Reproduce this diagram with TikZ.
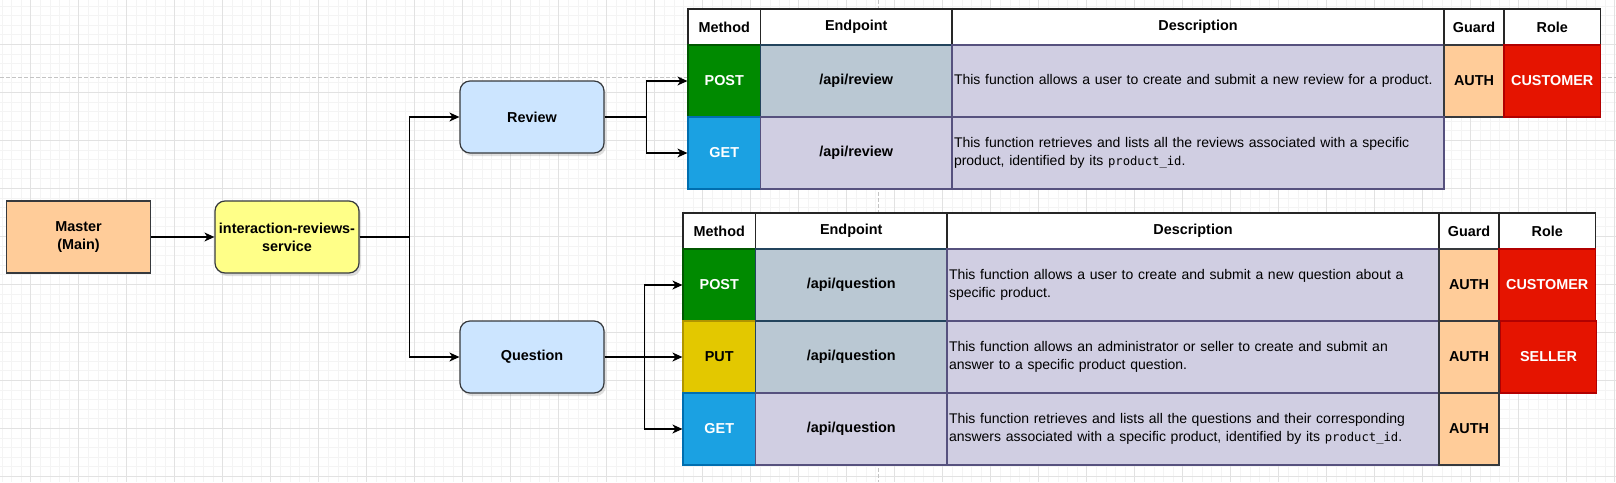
\documentclass[tikz,border=0pt]{standalone}
\usepackage{fontspec}
\setmainfont{Liberation Sans}
\newfontfamily\codefont{DejaVu Sans Mono}
\usetikzlibrary{arrows.meta,shadows}

\definecolor{gridmajor}{HTML}{E2E2E2}
\definecolor{gridminor}{HTML}{F4F4F4}
\definecolor{pageline}{HTML}{C4C4C4}
\definecolor{boxline}{HTML}{36393D}
\definecolor{masterfill}{HTML}{FFCC99}
\definecolor{servicefill}{HTML}{FFFF88}
\definecolor{groupfill}{HTML}{CCE5FF}
\definecolor{postfill}{HTML}{008A00}
\definecolor{postline}{HTML}{005700}
\definecolor{getfill}{HTML}{1BA1E2}
\definecolor{getline}{HTML}{006EAF}
\definecolor{putfill}{HTML}{E3C800}
\definecolor{putline}{HTML}{B09500}
\definecolor{epfill}{HTML}{BAC8D3}
\definecolor{epline}{HTML}{23445D}
\definecolor{descfill}{HTML}{D0CEE2}
\definecolor{descline}{HTML}{56517E}
\definecolor{rolefill}{HTML}{E51400}
\definecolor{roleline}{HTML}{B20000}

\newcommand{\apicode}[1]{{\codefont\fontsize{12.2}{18}\selectfont #1}}

\tikzset{
  flowbox/.style={draw=boxline, line width=1.2pt, minimum width=144pt, minimum height=72pt,
    inner sep=2pt, align=center, font=\fontsize{14.4}{17.7}\selectfont\bfseries},
  roundbox/.style={flowbox, rounded corners=10pt,
    drop shadow={shadow xshift=2pt, shadow yshift=-3pt, opacity=0.25}},
  conn/.style={line width=1.3pt, -{Stealth[length=10pt, width=9pt, inset=3pt]}},
  tcell/.style={draw, line width=1.2pt, inner sep=0pt, align=center, minimum height=72pt,
    font=\fontsize{14.4}{17}\selectfont\bfseries},
  head/.style={tcell, fill=white, draw=black!85, minimum height=36pt},
  meth/.style={tcell, minimum width=72.5pt},
  postcell/.style={meth, fill=postfill, draw=postline, text=white},
  getcell/.style={meth, fill=getfill, draw=getline, text=white},
  putcell/.style={meth, fill=putfill, draw=putline},
  ep/.style={tcell, minimum width=191.5pt},
  epgray/.style={ep, fill=epfill, draw=epline},
  eppurple/.style={ep, fill=descfill, draw=descline},
  desc/.style={tcell, fill=descfill, draw=descline, text width=488pt, inner xsep=2pt,
    align=left, font=\fontsize{14}{18}\selectfont,
    execute at begin node={\hyphenpenalty=10000\relax}},
  guard/.style={tcell, fill=masterfill, draw=boxline, minimum width=60pt},
  role/.style={tcell, fill=rolefill, draw=roleline, text=white, minimum width=96.5pt}
}

\begin{document}
\begin{tikzpicture}[x=1pt, y=-1pt]
  \fill[white] (0,0) rectangle (1616,482);
  \useasboundingbox (0,0) rectangle (1616,482);
  % background grid
  \foreach \gx in {1.9,11.5,...,1616} \draw[gridminor, line width=0.8pt] (\gx,0) -- (\gx,482);
  \foreach \gy in {5.9,15.5,...,482} \draw[gridminor, line width=0.8pt] (0,\gy) -- (1616,\gy);
  \foreach \gx in {30.7,78.7,...,1616} \draw[gridmajor, line width=0.8pt] (\gx,0) -- (\gx,482);
  \foreach \gy in {44.3,92.3,...,482} \draw[gridmajor, line width=0.8pt] (0,\gy) -- (1616,\gy);
  \draw[pageline, line width=0.8pt, dash pattern=on 4pt off 2pt] (0,77.3) -- (1616,77.3);
  \draw[pageline, line width=0.8pt, dash pattern=on 4pt off 2pt] (878.7,0) -- (878.7,482);

  \node[flowbox, fill=masterfill] (master) at (78.5,237) {Master\\(Main)};
  \node[roundbox, fill=servicefill] (service) at (287,237) {interaction-reviews-\\service};
  \node[roundbox, fill=groupfill] (review) at (532,117) {Review};
  \node[roundbox, fill=groupfill] (question) at (532,357) {Question};

  % review table
  \node[head, minimum width=72.5pt] (rhmethod) at (724.25,27) {Method};
  \node[head, minimum width=191.5pt] (rhendpoint) at (856.25,27) {Endpoint};
  \node[head, minimum width=492pt] (rhdesc) at (1198,27) {Description};
  \node[head, minimum width=60pt] (rhguard) at (1474,27) {Guard};
  \node[head, minimum width=96.5pt] (rhrole) at (1552.25,27) {Role};
  \node[postcell] (rpost) at (724.25,81) {POST};
  \node[epgray] (rpostep) at (856.25,81) {/api/review};
  \node[desc] (rpostdesc) at (1198,81) {This function allows a user to create and submit a new review for a product.};
  \node[guard] (rpostguard) at (1474,81) {AUTH};
  \node[role] (rpostrole) at (1552.25,81) {CUSTOMER};
  \node[getcell] (rget) at (724.25,153) {GET};
  \node[eppurple] (rgetep) at (856.25,153) {/api/review};
  \node[desc] (rgetdesc) at (1198,153) {This function retrieves and lists all the reviews associated with a specific\\product, identified by its \apicode{product\_id}.};

  % question table
  \node[head, minimum width=72.5pt] (qhmethod) at (719.25,231) {Method};
  \node[head, minimum width=191.5pt] (qhendpoint) at (851.25,231) {Endpoint};
  \node[head, minimum width=492pt] (qhdesc) at (1193,231) {Description};
  \node[head, minimum width=60pt] (qhguard) at (1469,231) {Guard};
  \node[head, minimum width=96.5pt] (qhrole) at (1547.25,231) {Role};
  \node[postcell] (qpost) at (719.25,285) {POST};
  \node[epgray] (qpostep) at (851.25,285) {/api/question};
  \node[desc] (qpostdesc) at (1193,285) {This function allows a user to create and submit a new question about a\\specific product.};
  \node[guard] (qpostguard) at (1469,285) {AUTH};
  \node[role] (qpostrole) at (1547.25,285) {CUSTOMER};
  \node[putcell] (qput) at (719.25,357) {PUT};
  \node[epgray] (qputep) at (851.25,357) {/api/question};
  \node[desc] (qputdesc) at (1193,357) {This function allows an administrator or seller to create and submit an\\answer to a specific product question.};
  \node[guard] (qputguard) at (1469,357) {AUTH};
  \node[role] (qputrole) at (1548.5,357) {SELLER};
  \node[getcell] (qget) at (719.25,429) {GET};
  \node[eppurple] (qgetep) at (851.25,429) {/api/question};
  \node[desc] (qgetdesc) at (1193,429) {This function retrieves and lists all the questions and their corresponding\\answers associated with a specific product, identified by its \apicode{product\_id}.};
  \node[guard] (qgetguard) at (1469,429) {AUTH};

  \draw[conn] (master) -- (service);
  \draw[conn] (service.east) -- ++(50,0) |- (review.west);
  \draw[conn] (service.east) -- ++(50,0) |- (question.west);
  \draw[conn] (review.east) -- ++(42,0) |- (rpost.west);
  \draw[conn] (review.east) -- ++(42,0) |- (rget.west);
  \draw[conn] (question.east) -- ++(40,0) |- (qpost.west);
  \draw[conn] (question.east) -- ++(40,0) |- (qput.west);
  \draw[conn] (question.east) -- ++(40,0) |- (qget.west);
\end{tikzpicture}
\end{document}
